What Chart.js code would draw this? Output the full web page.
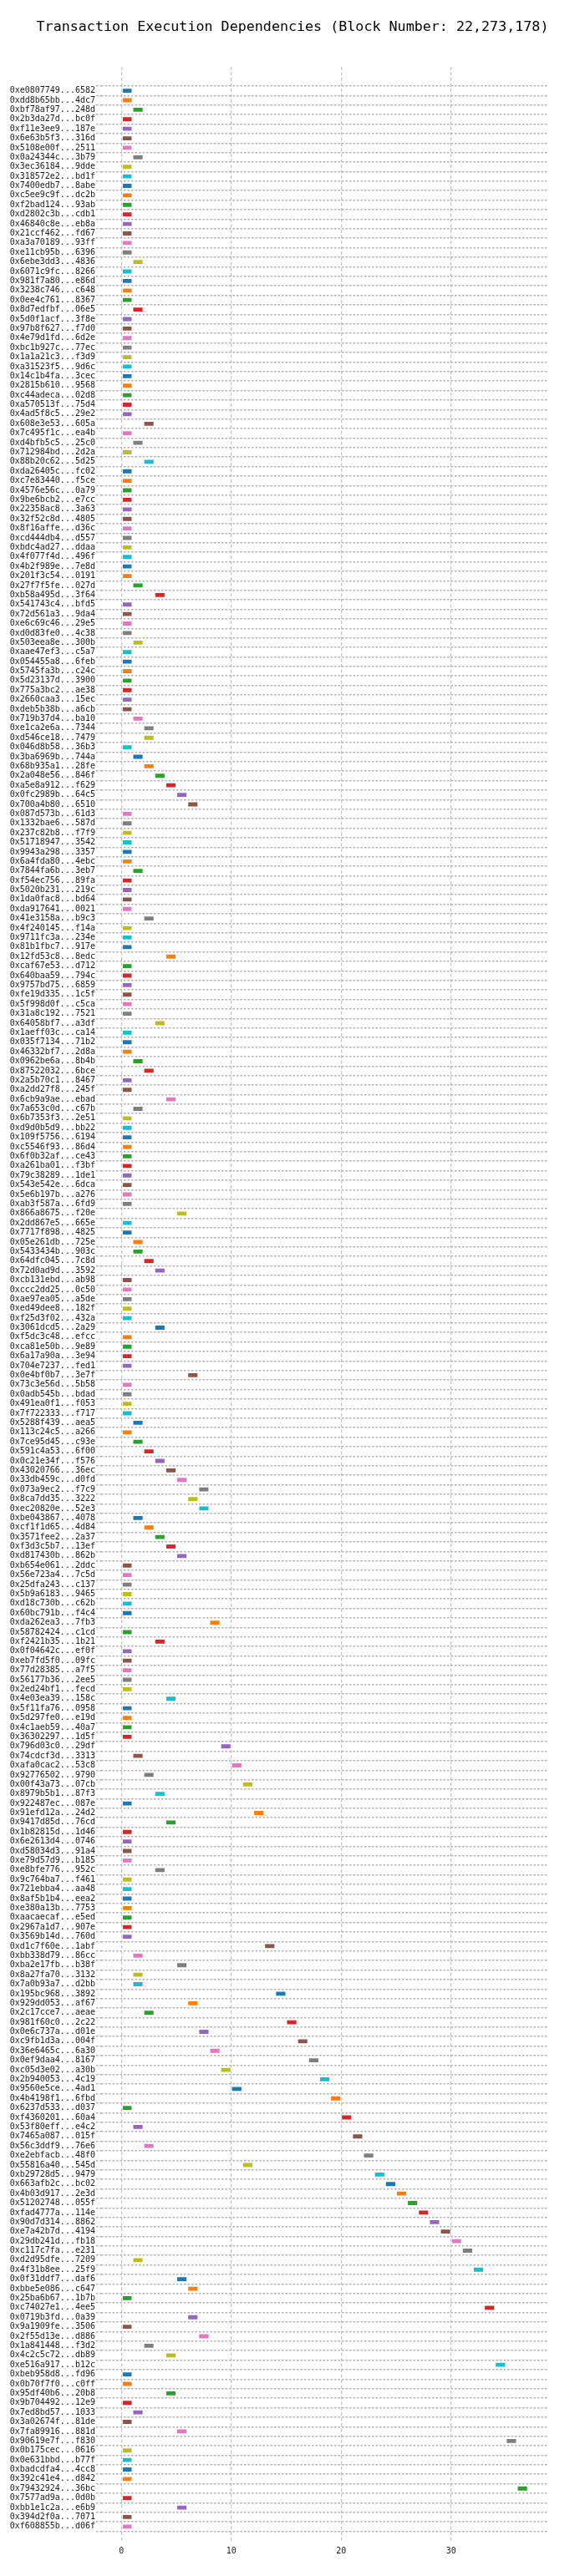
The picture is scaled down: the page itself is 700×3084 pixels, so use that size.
<!DOCTYPE html>
<html>
<head>
<meta charset="utf-8">
<title>Transaction Execution Dependencies</title>
<script src="https://cdn.jsdelivr.net/npm/chart.js@4.4.1/dist/chart.umd.min.js"></script>
<style>
  html, body { margin: 0; padding: 0; background: #ffffff; }
  #deps-chart { display: block; }
</style>
</head>
<body>
<canvas id="deps-chart" width="700" height="3084"></canvas>
<script>
/* ============================================================================
   TRANSACTION EXECUTION DEPENDENCIES - BLOCK 22,273,178
   One row per transaction, one bar per execution slot (width 1)
============================================================================ */

/* ===================== DATA ===================== */

const BLOCK_NUMBER = "22,273,178";

const TX_LABELS = [
  "0xe0807749...6582", "0xdd8b65bb...4dc7", "0xbf78af97...248d", "0x2b3da27d...bc0f",
  "0xf11e3ee9...187e", "0x6e63b5f3...316d", "0x5108e00f...2511", "0x0a24344c...3b79",
  "0x3ec36184...9dde", "0x318572e2...bd1f", "0x7400edb7...8abe", "0xc5ee9c9f...dc2b",
  "0xf2bad124...93ab", "0xd2802c3b...cdb1", "0x46840c8e...eb8a", "0x21ccf462...fd67",
  "0xa3a70189...93ff", "0xe11cb95b...6396", "0x6ebe3dd3...4836", "0x6071c9fc...8266",
  "0x981f7a80...e86d", "0x3238c746...c648", "0x0ee4c761...8367", "0x8d7edfbf...06e5",
  "0x5d0f1acf...3f8e", "0x97b8f627...f7d0", "0x4e79d1fd...6d2e", "0xbc1b927c...77ec",
  "0x1a1a21c3...f3d9", "0xa31523f5...9d6c", "0x14c1b4fa...3cec", "0x2815b610...9568",
  "0xc44adeca...02d8", "0xa570513f...75d4", "0x4ad5f8c5...29e2", "0x608e3e53...605a",
  "0x7c495f1c...ea4b", "0xd4bfb5c5...25c0", "0x712984bd...2d2a", "0x88b20c62...5d25",
  "0xda26405c...fc02", "0xc7e83440...f5ce", "0x4576e56c...0a79", "0x9be6bcb2...e7cc",
  "0x22358ac8...3a63", "0x32f52c8d...4805", "0x8f16affe...d36c", "0xcd444db4...d557",
  "0xbdc4ad27...ddaa", "0x4f077f4d...496f", "0x4b2f989e...7e8d", "0x201f3c54...0191",
  "0x27f7f5fe...027d", "0xb58a495d...3f64", "0x541743c4...bfd5", "0x72d561a3...9da4",
  "0xe6c69c46...29e5", "0xd0d83fe0...4c38", "0x503eea8e...300b", "0xaae47ef3...c5a7",
  "0x054455a8...6feb", "0x5745fa3b...c24c", "0x5d23137d...3900", "0x775a3bc2...ae38",
  "0x2660caa3...15ec", "0xdeb5b38b...a6cb", "0x719b37d4...ba10", "0xe1ca2e6a...7344",
  "0xd546ce18...7479", "0x046d8b58...36b3", "0x3ba6969b...744a", "0x68b935a1...28fe",
  "0x2a048e56...846f", "0xa5e8a912...f629", "0x0fc2989b...64c5", "0x700a4b80...6510",
  "0x087d573b...61d3", "0x1332bae6...587d", "0x237c82b8...f7f9", "0x51718947...3542",
  "0x9943a298...3357", "0x6a4fda80...4ebc", "0x7844fa6b...3eb7", "0xf54ec756...89fa",
  "0x5020b231...219c", "0x1da0fac8...bd64", "0xda917641...0021", "0x41e3158a...b9c3",
  "0x4f240145...f14a", "0x9711fc3a...234e", "0x81b1fbc7...917e", "0x12fd53c8...8edc",
  "0xcaf67e53...d712", "0x640baa59...794c", "0x9757bd75...6859", "0xfe19d335...1c5f",
  "0x5f998d0f...c5ca", "0x31a8c192...7521", "0x64058bf7...a3df", "0x1aeff03c...ca14",
  "0x035f7134...71b2", "0x46332bf7...2d8a", "0x0962be6a...8b4b", "0x87522032...6bce",
  "0x2a5b70c1...8467", "0xa2dd27f8...245f", "0x6cb9a9ae...ebad", "0x7a653c0d...c67b",
  "0x6b7353f3...2e51", "0xd9d0b5d9...bb22", "0x109f5756...6194", "0xc5546f93...86d4",
  "0x6f0b32af...ce43", "0xa261ba01...f3bf", "0x79c38289...1de1", "0x543e542e...6dca",
  "0x5e6b197b...a276", "0xab3f587a...6fd9", "0x866a8675...f20e", "0x2dd867e5...665e",
  "0x7717f898...4825", "0x05e261db...725e", "0x5433434b...903c", "0x64dfc045...7c8d",
  "0x72d0ad9d...3592", "0xcb131ebd...ab98", "0xccc2dd25...0c50", "0xae97ea05...a5de",
  "0xed49dee8...182f", "0xf25d3f02...432a", "0x3061dcd5...2a29", "0xf5dc3c48...efcc",
  "0xca81e50b...9e89", "0x6a17a90a...3e94", "0x704e7237...fed1", "0x0e4bf0b7...3e7f",
  "0x73c3e56d...5b58", "0x0adb545b...bdad", "0x491ea0f1...f053", "0x7f722333...f717",
  "0x5288f439...aea5", "0x113c24c5...a266", "0x7ce95d45...c93e", "0x591c4a53...6f00",
  "0x0c21e34f...f576", "0x43020766...36ec", "0x33db459c...d0fd", "0x073a9ec2...f7c9",
  "0x8ca7dd35...3222", "0xec20820e...52e3", "0xbe043867...4078", "0xcf1f1d65...4d84",
  "0x3571fee2...2a37", "0xf3d3c5b7...13ef", "0xd817430b...862b", "0xb654e061...2ddc",
  "0x56e723a4...7c5d", "0x25dfa243...c137", "0x5b9a6183...9465", "0xd18c730b...c62b",
  "0x60bc791b...f4c4", "0xda262ea3...7fb3", "0x58782424...c1cd", "0xf2421b35...1b21",
  "0x0f04642c...ef0f", "0xeb7fd5f0...09fc", "0x77d28385...a7f5", "0x56177b36...2ee5",
  "0x2ed24bf1...fecd", "0x4e03ea39...158c", "0x5f11fa76...0958", "0x5d297fe0...e19d",
  "0x4c1aeb59...40a7", "0x36302297...1d5f", "0x796d03c0...29df", "0x74cdcf3d...3313",
  "0xafa0cac2...53c8", "0x92776502...9790", "0x00f43a73...07cb", "0x8979b5b1...87f3",
  "0x922487ec...087e", "0x91efd12a...24d2", "0x9417d85d...76cd", "0x1b82815d...1d46",
  "0x6e2613d4...0746", "0xd58034d3...91a4", "0xe79d57d9...b185", "0xe8bfe776...952c",
  "0x9c764ba7...f461", "0x721ebba4...aa48", "0x8af5b1b4...eea2", "0xe380a13b...7753",
  "0xaacaecaf...e5ed", "0x2967a1d7...907e", "0x3569b14d...760d", "0xd1c7f60e...1abf",
  "0xbb338d79...86cc", "0xba2e17fb...b38f", "0x8a27fa70...3132", "0x7a0b93a7...d2bb",
  "0x195bc968...3892", "0x929dd053...af67", "0x2c17cce7...aeae", "0x981f60c0...2c22",
  "0x0e6c737a...d01e", "0xc9fb1d3a...004f", "0x36e6465c...6a30", "0x0ef9daa4...8167",
  "0xc05d3e02...a30b", "0x2b940053...4c19", "0x9560e5ce...4ad1", "0x4b4198f1...6fbd",
  "0x6237d533...d037", "0xf4360201...60a4", "0x53f80eff...e4c2", "0x7465a087...015f",
  "0x56c3ddf9...76e6", "0xe2ebfacb...48f0", "0x55816a40...545d", "0xb29728d5...9479",
  "0x663afb2c...bc02", "0x4b03d917...2e3d", "0x51202748...055f", "0xfad4777a...114e",
  "0x90d7d314...8862", "0xe7a42b7d...4194", "0x29db241d...fb18", "0xc117c7fa...e231",
  "0xd2d95dfe...7209", "0x4f31b8ee...25f9", "0x0f31ddf7...daf6", "0xbbe5e086...c647",
  "0x25ba6b67...1b7b", "0xc74027e1...4ee5", "0x0719b3fd...0a39", "0x9a1909fe...3506",
  "0x2f55d13e...d886", "0x1a841448...f3d2", "0x4c2c5c72...db89", "0xe516a917...b12c",
  "0xbeb958d8...fd96", "0x0b70f7f0...c0ff", "0x95df40b6...20b8", "0x9b704492...12e9",
  "0x7ed8bd57...1033", "0x3a02674f...81de", "0x7fa89916...881d", "0x90619e7f...f830",
  "0x0b175cec...0616", "0x0e631bbd...b77f", "0xbadcdfa4...4cc8", "0x392c41e4...d842",
  "0x79432924...36bc", "0x7577ad9a...0d0b", "0xbb1e1c2a...e6b9", "0x394d2f0a...7071",
  "0xf608855b...d06f",
];

// execution slot where each transaction starts (same order as TX_LABELS)
const START_SLOTS = [
  0, 0, 1, 0, 0, 0, 0, 1, 0,
  0, 0, 0, 0, 0, 0, 0, 0, 0, 1,
  0, 0, 0, 0, 1, 0, 0, 0, 0, 0,
  0, 0, 0, 0, 0, 0, 2, 0, 1, 0,
  2, 0, 0, 0, 0, 0, 0, 0, 0, 0,
  0, 0, 0, 1, 3, 0, 0, 0, 0, 1,
  0, 0, 0, 0, 0, 0, 0, 1, 2, 2,
  0, 1, 2, 3, 4, 5, 6, 0, 0, 0,
  0, 0, 0, 1, 0, 0, 0, 0, 2, 0,
  0, 0, 4, 0, 0, 0, 0, 0, 0, 3,
  0, 0, 0, 1, 2, 0, 0, 4, 1, 0,
  0, 0, 0, 0, 0, 0, 0, 0, 0, 5,
  0, 0, 1, 1, 2, 3, 0, 0, 0, 0,
  0, 3, 0, 0, 0, 0, 6, 0, 0, 0,
  0, 1, 0, 1, 2, 3, 4, 5, 7, 6,
  7, 1, 2, 3, 4, 5, 0, 0, 0, 0,
  0, 0, 8, 0, 3, 0, 0, 0, 0, 0,
  4, 0, 0, 0, 0, 9, 1, 10, 2, 11,
  3, 0, 12, 4, 0, 0, 0, 0, 3, 0,
  0, 0, 0, 0, 0, 0, 13, 1, 5, 1,
  1, 14, 6, 2, 15, 7, 16, 8, 17, 9,
  18, 10, 19, 0, 20, 1, 21, 2, 22, 11,
  23, 24, 25, 26, 27, 28, 29, 30, 31, 1,
  32, 5, 6, 0, 33, 6, 0, 7, 2, 4,
  34, 0, 0, 4, 0, 1, 0, 5, 35, 0,
  0, 0, 0, 36, 0, 5, 0, 0,
];

const SLOT_LENGTH = 1;

const X_TICKS = [0, 10, 20, 30];

/* ===================== COLOR PALETTE ===================== */

const ROW_COLORS = [
  "#1f77b4", // blue
  "#ff7f0e", // orange
  "#2ca02c", // green
  "#d62728", // red
  "#9467bd", // purple
  "#8c564b", // brown
  "#e377c2", // pink
  "#7f7f7f", // gray
  "#bcbd22", // olive
  "#17becf", // cyan
];

const ROW_GRID_COLOR = "#b3b3b3";
const SLOT_GRID_COLOR = "#c4c4c4";
const TEXT_COLOR = "#1a1a1a";
const FONT_FAMILY = "'DejaVu Sans Mono', 'Liberation Mono', monospace";

/* ===================== CHART ===================== */

Chart.defaults.font.family = FONT_FAMILY;
Chart.defaults.color = TEXT_COLOR;

const depsCanvas = document.getElementById("deps-chart");

const barData = START_SLOTS.map((start, i) => ({
  y: i,
  x: [start, start + SLOT_LENGTH],
}));

const depsChart = new Chart(depsCanvas, {
  type: "bar",
  data: {
    datasets: [
      {
        label: "Execution slot",
        data: barData,
        xAxisID: "x",
        yAxisID: "y",
        backgroundColor: (ctx) => ROW_COLORS[ctx.dataIndex % ROW_COLORS.length],
        borderColor: "rgba(255, 255, 255, 0.55)",
        borderWidth: 1,
        borderSkipped: false,
        categoryPercentage: 0.6,
        barPercentage: 1,
      },
    ],
  },
  options: {
    indexAxis: "y",
    responsive: false,
    animation: false,
    devicePixelRatio: 1,
    layout: {
      padding: 0,
    },
    plugins: {
      legend: { display: false },
      tooltip: { enabled: false },
      title: {
        display: true,
        text: `Transaction Execution Dependencies (Block Number: ${BLOCK_NUMBER})`,
        color: "#000000",
        font: { size: 16.7, weight: "normal" },
        padding: { top: 23, bottom: 37 },
      },
    },
    scales: {
      x: {
        type: "linear",
        position: "bottom",
        min: -1.85,
        max: 38.85,
        afterBuildTicks: (scale) => {
          scale.ticks = X_TICKS.map((v) => ({ value: v }));
        },
        afterFit: (scale) => {
          scale.height = 42;
        },
        ticks: {
          padding: 6,
          font: { size: 10 },
          color: TEXT_COLOR,
        },
        grid: {
          color: SLOT_GRID_COLOR,
          lineWidth: 1.2,
          drawTicks: false,
        },
        border: { display: false, dash: [4, 2.5] },
      },
      y: {
        type: "linear",
        position: "left",
        reverse: true,
        min: -2,
        max: TX_LABELS.length,
        afterBuildTicks: (scale) => {
          scale.ticks = TX_LABELS.map((_, i) => ({ value: i }));
        },
        afterFit: (scale) => {
          scale.width = 121;
        },
        ticks: {
          autoSkip: false,
          padding: 1,
          font: { size: 10 },
          color: TEXT_COLOR,
          callback: (value) => TX_LABELS[value] ?? "",
        },
        grid: {
          color: ROW_GRID_COLOR,
          lineWidth: 1.4,
          drawTicks: true,
          tickLength: 6,
          tickColor: ROW_GRID_COLOR,
          tickWidth: 1.4,
          tickBorderDash: [2.5, 2],
        },
        border: { display: false, dash: [2.5, 2] },
      },
      // empty right-hand margin so the title is centred on the whole figure
      rightMargin: {
        type: "linear",
        axis: "y",
        position: "right",
        grid: { display: false },
        ticks: { display: false },
        border: { display: false },
        afterFit: (scale) => {
          scale.width = 44;
        },
      },
    },
  },
});
</script>
</body>
</html>
